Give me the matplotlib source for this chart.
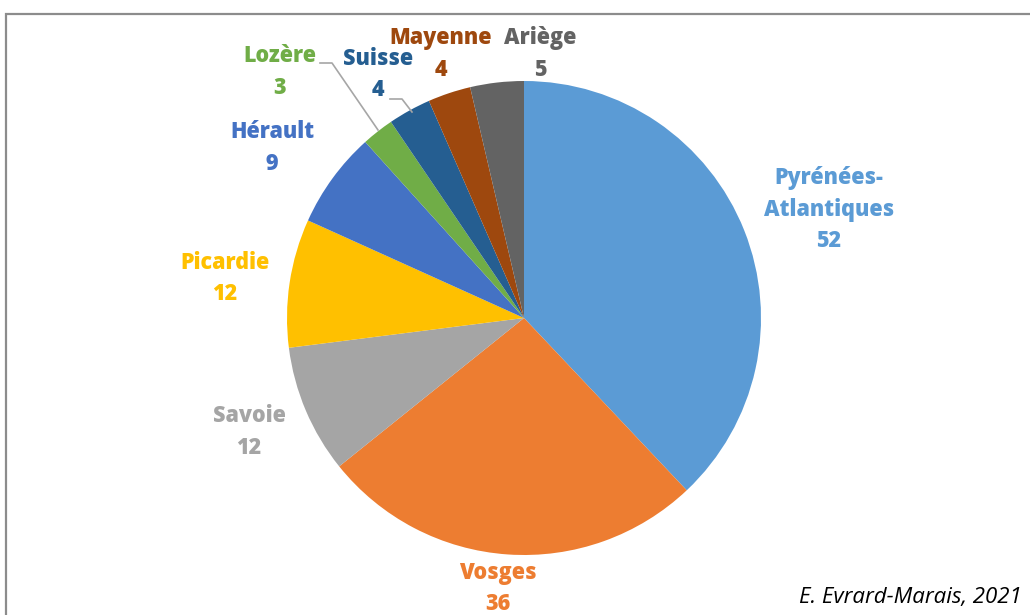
import matplotlib.pyplot as plt
from matplotlib.patches import Rectangle

# Données
regions = ["Pyrénées-\nAtlantiques", "Vosges", "Savoie", "Picardie", "Hérault",
           "Lozère", "Suisse", "Mayenne", "Ariège"]
valeurs = [52, 36, 12, 12, 9, 3, 4, 4, 5]
couleurs = ["#5B9BD5", "#ED7D31", "#A5A5A5", "#FFC000", "#4472C4",
            "#70AD47", "#255E91", "#9E480E", "#636363"]

W, H = 1030, 615
fig = plt.figure(figsize=(W / 100, H / 100), dpi=100)
ax = fig.add_axes([0, 0, 1, 1])

# cadre gris
fig.patches.append(Rectangle((6 / W, -0.05), 1.1, (H - 14) / H + 0.05,
                             transform=fig.transFigure, fill=False,
                             edgecolor="#8c8c8c", linewidth=1.6))

cx, cy, r = 524, H - 318, 237
ax.pie(valeurs, colors=couleurs, startangle=90, counterclock=False,
       center=(cx, cy), radius=r, wedgeprops=dict(linewidth=0),
       frame=True)
ax.set_xlim(0, W)
ax.set_ylim(0, H)
ax.set_aspect("equal")
ax.axis("off")

# centre de la première ligne de chaque étiquette (pixels)
pos_labels = [(829, 178), (498, 573), (249, 416), (225, 263), (272, 132),
              (280, 56), (378, 59), (441, 38), (540, 38)]
pas = 31.5

for nom, v, c, (px, py) in zip(regions, valeurs, couleurs, pos_labels):
    lignes = nom.split("\n") + [str(v)]
    for i, t in enumerate(lignes):
        ax.text(px, H - (py + i * pas), t, color=c, ha="center", va="center",
                fontsize=15.5, fontweight="heavy", family="Open Sans")

# lignes de rappel
ax.plot([320, 332, 378], [H - 63, H - 63, H - 130], color="#a6a6a6", lw=1.2)
ax.plot([390, 402, 412], [H - 99, H - 99, H - 112], color="#a6a6a6", lw=1.2)

ax.text(1022, H - 597, "E. Evrard-Marais, 2021", ha="right", va="center",
        fontsize=16, style="italic", family="Open Sans", color="#000000")

fig.savefig("out.png", dpi=100)
